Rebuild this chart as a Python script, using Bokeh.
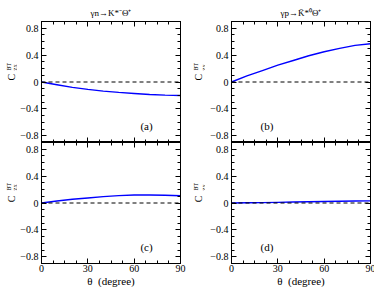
import math
from bokeh.plotting import figure
from bokeh.layouts import gridplot
from bokeh.models import LinearAxis, FixedTicker, Label, Span, Title
from bokeh.embed import file_html
from bokeh.resources import INLINE

theta = [0, 10, 20, 30, 40, 50, 60, 70, 80, 90]
c_a = [0, -0.04, -0.08, -0.11, -0.135, -0.155, -0.17, -0.185, -0.195, -0.2]
c_b = [0, 0.09, 0.17, 0.25, 0.32, 0.39, 0.45, 0.50, 0.545, 0.57]
c_c = [0, 0.03, 0.055, 0.075, 0.095, 0.11, 0.118, 0.12, 0.115, 0.107]
c_d = [0, 0.003, 0.006, 0.01, 0.014, 0.018, 0.022, 0.026, 0.029, 0.032]

x_ticks = [0, 30, 60, 90]
x_minor = [7.5, 15, 22.5, 37.5, 45, 52.5, 67.5, 75, 82.5]
y_ticks = [-0.8, -0.4, 0, 0.4, 0.8]
y_labels = {-0.8: "\u22120.8", -0.4: "\u22120.4", 0: "0", 0.4: "0.4", 0.8: "0.8"}
y_minor = [-0.9, -0.7, -0.6, -0.5, -0.3, -0.2, -0.1, 0.1, 0.2, 0.3, 0.5, 0.6, 0.7, 0.9]

titles = ["\u03b3n\u2192K*\u207b\u0398\u207a", "\u03b3p\u2192K\u0304*\u2070\u0398\u207a"]
panel_tags = ["(a)", "(b)", "(c)", "(d)"]
tag_x = [68, 23, 68, 23]
tag_y = [-0.66, -0.66, -0.66, -0.66]
x_title = "\u03b8\u2002(degree)"
y_main, y_sup, y_sub = "C", "BT", "zx"

FONT = "Liberation Serif"
FW, FH = 139, 121


def base_axis(ax, ticks, minor, tick_len=5, minor_len=3):
    ax.ticker = FixedTicker(ticks=ticks, minor_ticks=minor)
    ax.major_tick_in = tick_len
    ax.major_tick_out = 0
    ax.minor_tick_in = minor_len
    ax.minor_tick_out = 0
    ax.major_tick_line_color = "black"
    ax.minor_tick_line_color = "black"
    ax.axis_line_color = "black"
    ax.major_label_standoff = 0
    ax.axis_label_standoff = 0
    return ax


def add_tick_only(p, side, major, minor):
    a1 = base_axis(LinearAxis(), [], major, minor_len=5)
    a2 = base_axis(LinearAxis(), [], minor, minor_len=3)
    p.add_layout(a1, side)
    p.add_layout(a2, side)


def borders(row):
    return (21, 0) if row == 0 else (0, 24)


def make_strip(col, row, width):
    top, bottom = borders(row)
    s = figure(frame_width=width, frame_height=FH, x_range=(0, width), y_range=(-0.9, 0.9),
               output_backend="svg", toolbar_location=None,
               min_border_left=0, min_border_right=0,
               min_border_top=top, min_border_bottom=bottom,
               x_axis_location=None, y_axis_location=None)
    s.grid.visible = False
    s.outline_line_color = None
    s.background_fill_color = "white"
    s.border_fill_color = "white"
    if col == 0:
        xc, xs, xb = 10.6, 8.3, 14.2
    else:
        xc, xs, xb = 8, 5.5, 12.5
    y0 = 0.022 if row == 0 else 0.012
    y1 = 0.171 if row == 0 else 0.186
    s.add_layout(Label(x=xc, y=y0, text=y_main, angle=math.pi / 2,
                       text_font=FONT, text_font_size="10px", text_align="left",
                       text_baseline="alphabetic", text_color="black"))
    s.add_layout(Label(x=xs, y=y1, text=y_sup, angle=math.pi / 2,
                       text_font=FONT, text_font_size="6px", text_align="left",
                       text_baseline="alphabetic", text_color="black"))
    s.add_layout(Label(x=xb, y=y1, text=y_sub, angle=math.pi / 2,
                       text_font=FONT, text_font_size="6.5px", text_align="left",
                       text_baseline="alphabetic", text_color="black"))
    return s


def make_panel(ys, col, row, tag_i):
    left = 22 if col == 0 else 26
    right = 10 if col == 0 else 6
    top, bottom = borders(row)
    p = figure(frame_width=FW, frame_height=FH, x_range=(0, 90), y_range=(-0.9, 0.9),
               output_backend="svg", toolbar_location=None,
               min_border_left=left, min_border_right=right,
               min_border_top=top, min_border_bottom=bottom,
               x_axis_location=None, y_axis_location=None)
    p.grid.visible = False
    p.outline_line_color = "black"
    p.outline_line_width = 1
    p.background_fill_color = "white"
    p.border_fill_color = "white"

    if row == 0:
        p.title.text = titles[col]
        p.title.align = "center"
        p.title.text_font = FONT
        p.title.text_font_size = "9px"
        p.title.text_font_style = "normal"
        p.title.text_color = "black"
        p.title.offset = -3.5 if col == 0 else -4.5
        p.title.standoff = 8

    if row == 1:
        xb = base_axis(LinearAxis(), x_ticks, x_minor)
        xb.major_label_text_font = FONT
        xb.major_label_text_font_size = "10px"
        xb.major_label_text_color = "black"
        xb.major_label_standoff = 1
        p.add_layout(xb, "below")
        p.add_layout(Title(text=x_title, align="center", offset=-10,
                           standoff=-3, text_font=FONT, text_font_size="11px",
                           text_font_style="normal", text_color="black"), "below")
    else:
        add_tick_only(p, "below", x_ticks, x_minor)
    add_tick_only(p, "above", x_ticks, x_minor)

    yl = base_axis(LinearAxis(), y_ticks, y_minor)
    yl.major_label_overrides = y_labels
    yl.major_label_text_font = FONT
    yl.major_label_text_font_size = "10px"
    yl.major_label_text_color = "black"
    yl.major_label_standoff = 3
    p.add_layout(yl, "left")
    add_tick_only(p, "right", y_ticks, y_minor)

    p.add_layout(Span(location=0, dimension="width", line_color="black",
                      line_dash="4 3", line_width=1))
    p.line(theta, ys, line_color="#0000ff", line_width=1.4)

    p.add_layout(Label(x=tag_x[tag_i], y=tag_y[tag_i], text=panel_tags[tag_i],
                       text_font=FONT, text_font_size="11px", text_align="center",
                       text_baseline="middle", text_color="black"))
    return p


pa = make_panel(c_a, 0, 0, 0)
pb = make_panel(c_b, 1, 0, 1)
pc = make_panel(c_c, 0, 1, 2)
pd = make_panel(c_d, 1, 1, 3)

sa = make_strip(0, 0, 17)
sb = make_strip(1, 0, 15)
sc = make_strip(0, 1, 17)
sd = make_strip(1, 1, 15)

grid = gridplot([[sa, pa, sb, pb], [sc, pc, sd, pd]], toolbar_location=None)

open("out.html", "w").write(file_html(grid, INLINE))
